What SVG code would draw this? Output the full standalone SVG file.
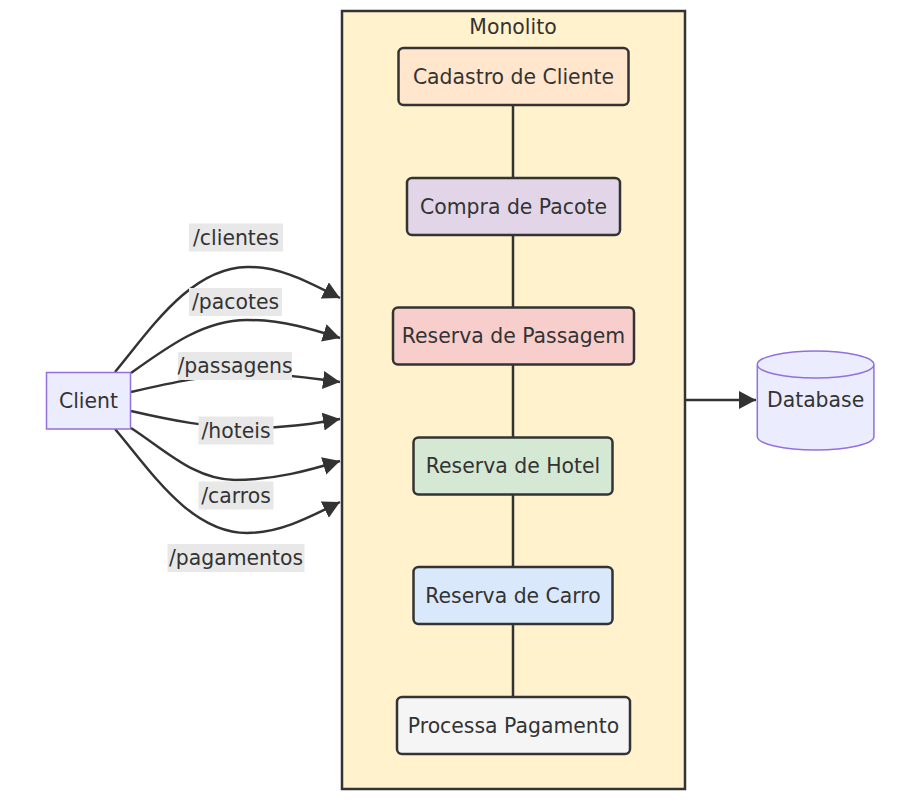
<svg xmlns="http://www.w3.org/2000/svg" width="921" height="802" viewBox="0 0 921 802">
<style>
text{font-family:"DejaVu Sans","Liberation Sans",sans-serif;font-size:20.4px;fill:#333;text-anchor:middle;dominant-baseline:central}
.node rect{stroke:#333;stroke-width:2.5}
.edge{fill:none;stroke:#333;stroke-width:2.5}
.lbl{fill:#e8e8e8}
</style>
<defs>
<marker id="arr" markerUnits="userSpaceOnUse" markerWidth="19" markerHeight="19" refX="17" refY="9" orient="auto">
<path d="M0,0 L17,9 L0,18 z" fill="#333"/>
</marker>
</defs>
<rect width="921" height="802" fill="#fff"/>
<g id="cluster-monolito">
<rect x="342" y="11" width="343" height="778" fill="#fff2cc" stroke="#333" stroke-width="2.5"/>
<text x="513" y="27">Monolito</text>
</g>
<g id="connectors">
<line class="edge" x1="513" y1="105" x2="513" y2="178"/>
<line class="edge" x1="513" y1="235" x2="513" y2="307"/>
<line class="edge" x1="513" y1="364" x2="513" y2="437"/>
<line class="edge" x1="513" y1="494" x2="513" y2="567"/>
<line class="edge" x1="513" y1="624" x2="513" y2="697"/>
<path class="edge" d="M115,372 C150,330 190,268 247,267 C280,266 310,283 340,298" marker-end="url(#arr)"/>
<path class="edge" d="M131,373 C170,345 205,320 247,320 C285,320 315,330 340,338" marker-end="url(#arr)"/>
<path class="edge" d="M131,392 C170,383 210,374 250,374 C290,374 315,379 340,382" marker-end="url(#arr)"/>
<path class="edge" d="M131,411 C170,420 210,428 250,428 C290,428 315,423 340,419" marker-end="url(#arr)"/>
<path class="edge" d="M131,428 C165,450 195,480 235,480 C275,480 310,470 340,461" marker-end="url(#arr)"/>
<path class="edge" d="M115,429 C150,470 190,533 247,533 C280,533 310,517 340,502" marker-end="url(#arr)"/>
<line class="edge" x1="686" y1="400" x2="756" y2="400" marker-end="url(#arr)"/>
<rect class="lbl" x="189" y="223.5" width="94" height="28"/>
<text x="236" y="237.5">/clientes</text>
<rect class="lbl" x="189" y="288" width="93" height="28"/>
<text x="235.5" y="302">/pacotes</text>
<rect class="lbl" x="178" y="352" width="114" height="28"/>
<text x="235" y="366">/passagens</text>
<rect class="lbl" x="198.5" y="416.5" width="75" height="28"/>
<text x="236" y="430.5">/hoteis</text>
<rect class="lbl" x="198.5" y="481.5" width="75" height="28"/>
<text x="236" y="495.5">/carros</text>
<rect class="lbl" x="167.5" y="544" width="137" height="28"/>
<text x="236" y="558">/pagamentos</text>
</g>
<g id="client" class="node">
<rect x="46.5" y="372.5" width="84" height="56.5" fill="#ececff" style="stroke:#9370db;stroke-width:1.5"/>
<text x="88.5" y="400.5">Client</text>
</g>
<g id="cadastro" class="node">
<rect x="398.5" y="48" width="230" height="57" rx="5" fill="#ffe6cc"/>
<text x="513.5" y="76.5">Cadastro de Cliente</text>
</g>
<g id="compra" class="node">
<rect x="407" y="178" width="213" height="57" rx="5" fill="#e1d5e7"/>
<text x="513.5" y="206.5">Compra de Pacote</text>
</g>
<g id="passagem" class="node">
<rect x="393" y="307.5" width="241" height="57" rx="5" fill="#f8cecc"/>
<text x="513.5" y="336">Reserva de Passagem</text>
</g>
<g id="hotel" class="node">
<rect x="413.5" y="437.5" width="199" height="57" rx="5" fill="#d5e8d4"/>
<text x="513" y="466">Reserva de Hotel</text>
</g>
<g id="carro" class="node">
<rect x="413.5" y="567" width="199" height="57" rx="5" fill="#dae8fc"/>
<text x="513" y="595.5">Reserva de Carro</text>
</g>
<g id="pagamento" class="node">
<rect x="397" y="697" width="233" height="57" rx="5" fill="#f5f5f5"/>
<text x="513.5" y="725.5">Processa Pagamento</text>
</g>
<g id="database" class="node">
<path d="M757.3,364.5 a58.3,13.5 0 0 0 116.6,0 a58.3,13.5 0 0 0 -116.6,0 l0,72 a58.3,13.5 0 0 0 116.6,0 l0,-72" fill="#ececff" stroke="#9370db" stroke-width="1.5"/>
<text x="815.6" y="400">Database</text>
</g>
</svg>
